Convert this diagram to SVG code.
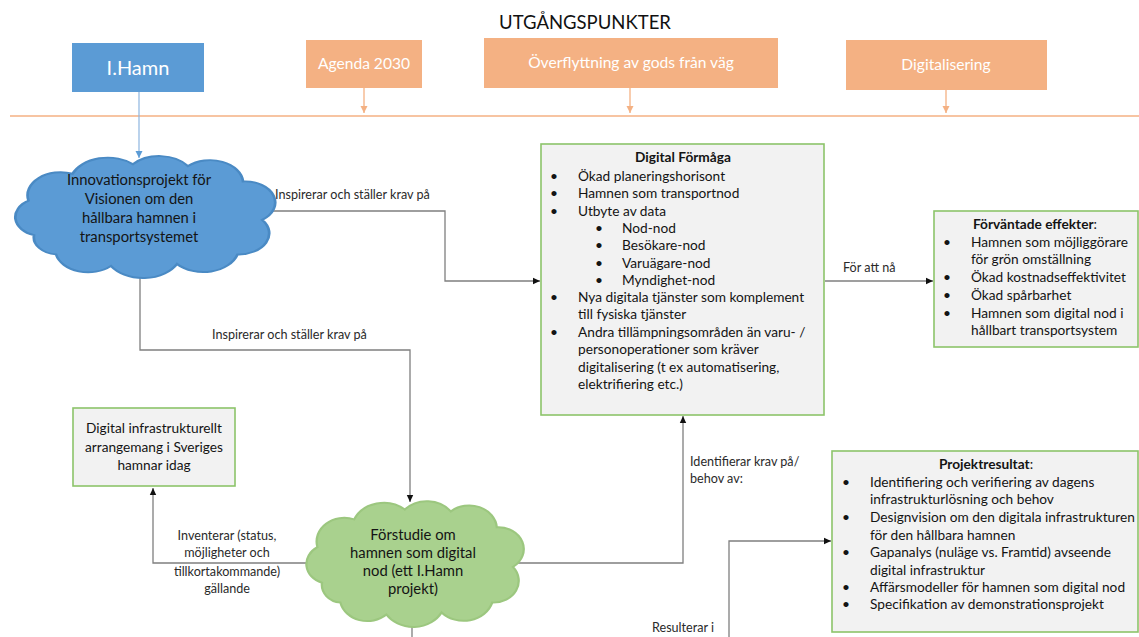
<svg xmlns="http://www.w3.org/2000/svg" xmlns:xlink="http://www.w3.org/1999/xlink" width="1139" height="637" viewBox="0 0 1139 637">
  <style>
    .txt { font-family: Lato, "Liberation Sans", sans-serif; font-size: 13.7px; fill: #141414; }
    .ctx { font-family: Lato, "Liberation Sans", sans-serif; font-size: 14.8px; fill: #141414; text-anchor: middle; }
    .lbl { font-family: Lato, "Liberation Sans", sans-serif; font-size: 12.6px; fill: #2a2a2a; }
    .mid { text-anchor: middle; }
    .b { font-weight: bold; }
    .wht { font-family: Lato, "Liberation Sans", sans-serif; fill: #ffffff; text-anchor: middle; }
    .box { fill: #f2f2f2; stroke: #8cc46a; stroke-width: 1.6; }
    .org { fill: #f4b183; }
    .conn { fill: none; stroke: #7f7f7f; stroke-width: 1.3; }
    .oline { fill: none; stroke: #f4b183; stroke-width: 1.3; }
  </style>
  <defs>
    <marker id="arr" markerUnits="userSpaceOnUse" markerWidth="8" markerHeight="8" refX="7" refY="4" orient="auto">
      <path d="M0,0.8 L7,4 L0,7.2 Z" fill="#111111"/>
    </marker>
    <marker id="arrO" markerUnits="userSpaceOnUse" markerWidth="8" markerHeight="8" refX="7" refY="4" orient="auto">
      <path d="M0,0.5 L7,4 L0,7.5 Z" fill="#f4b183"/>
    </marker>
    <marker id="arrB" markerUnits="userSpaceOnUse" markerWidth="8" markerHeight="8" refX="7" refY="4" orient="auto">
      <path d="M0,0.5 L7,4 L0,7.5 Z" fill="#5b9bd5"/>
    </marker>
    <!-- cloud outline centred on 0,0, about 94 x 64 units -->
    <path id="cloud" d="M -40,10 A 10,10 0 0 1 -42,-8 A 12,12 0 0 1 -26,-22 A 14,14 0 0 1 -4,-27 A 13,13 0 0 1 16,-26 A 12,12 0 0 1 36,-18 A 11,11 0 0 1 43,2 A 11,11 0 0 1 34,20 A 13,13 0 0 1 12,25 A 14,14 0 0 1 -12,26 A 12,12 0 0 1 -32,20 A 9,9 0 0 1 -40,10 Z"/>
  </defs>

  <rect width="1139" height="637" fill="#ffffff"/>

  <text x="585" y="29" class="mid" font-family="Lato, 'Liberation Sans', sans-serif" font-size="18.5" fill="#111111">UTGÅNGSPUNKTER</text>

  <!-- connectors -->
  <g id="connectors">
    <path class="oline" d="M10,116 H1139"/>
    <path class="oline" d="M364,88 V113" marker-end="url(#arrO)"/>
    <path class="oline" d="M630,88 V113" marker-end="url(#arrO)"/>
    <path class="oline" d="M946,90 V113" marker-end="url(#arrO)"/>
    <path d="M139,91 V158" fill="none" stroke="#8db5e0" stroke-width="1.2" marker-end="url(#arrB)"/>
    <path class="conn" d="M268,211 H445 V281 H540" marker-end="url(#arr)"/>
    <path class="conn" d="M140,272 V350 H410 V502" marker-end="url(#arr)"/>
    <path class="conn" d="M825,281 H933" marker-end="url(#arr)"/>
    <path class="conn" d="M312,563 H153 V488" marker-end="url(#arr)"/>
    <path class="conn" d="M518,563 H683 V416" marker-end="url(#arr)"/>
    <path class="conn" d="M412,622 V637"/>
    <path class="conn" d="M729,637 V541 H831" marker-end="url(#arr)"/>
    <text class="lbl" x="275" y="199">Inspirerar och ställer krav på</text>
    <text class="lbl" x="212" y="339">Inspirerar och ställer krav på</text>
    <text class="lbl" x="843" y="272">För att nå</text>
    <text class="lbl mid" x="227" y="540">Inventerar (status,</text>
    <text class="lbl mid" x="227" y="557">möjligheter och</text>
    <text class="lbl mid" x="227" y="576">tillkortakommande)</text>
    <text class="lbl mid" x="227" y="593">gällande</text>
    <text class="lbl" x="690" y="466">Identifierar krav på/</text>
    <text class="lbl" x="690" y="483">behov av:</text>
    <text class="lbl" x="652" y="632">Resulterar i</text>
  </g>

  <g id="ihamn">
    <rect x="72" y="43" width="132" height="49" fill="#5b9bd5"/>
    <text class="wht" x="138" y="75" font-size="20">I.Hamn</text>
  </g>
  <g id="agenda">
    <rect class="org" x="306" y="40" width="116" height="48"/>
    <text class="wht" x="364" y="69" font-size="15.6">Agenda 2030</text>
  </g>
  <g id="overflyttning">
    <rect class="org" x="484" y="38" width="294" height="50"/>
    <text class="wht" x="631" y="68" font-size="15.6">Överflyttning av gods från väg</text>
  </g>
  <g id="digitalisering">
    <rect class="org" x="846" y="40" width="201" height="50"/>
    <text class="wht" x="946" y="70" font-size="15.6">Digitalisering</text>
  </g>

  <g id="innovationsprojekt">
    <use xlink:href="#cloud" transform="translate(144,216) scale(2.75,1.92)" fill="#5b9bd5" stroke="#4a8ac4" stroke-width="1" vector-effect="non-scaling-stroke"/>
    <text class="ctx" x="139" y="185">Innovationsprojekt för</text>
    <text class="ctx" x="139" y="204">Visionen om den</text>
    <text class="ctx" x="139" y="223">hållbara hamnen i</text>
    <text class="ctx" x="139" y="242">transportsystemet</text>
  </g>

  <g id="digital-formaga">
    <rect class="box" x="541" y="144" width="283" height="271"/>
    <text class="txt mid b" x="683" y="162">Digital Förmåga</text>
    <g class="txt">
      <text x="550" y="181">•</text><text x="578" y="181">Ökad planeringshorisont</text>
      <text x="550" y="198">•</text><text x="578" y="198">Hamnen som transportnod</text>
      <text x="550" y="216">•</text><text x="578" y="216">Utbyte av data</text>
      <text x="595" y="233">•</text><text x="622" y="233">Nod-nod</text>
      <text x="595" y="250">•</text><text x="622" y="250">Besökare-nod</text>
      <text x="595" y="268">•</text><text x="622" y="268">Varuägare-nod</text>
      <text x="595" y="285">•</text><text x="622" y="285">Myndighet-nod</text>
      <text x="550" y="302">•</text><text x="578" y="302">Nya digitala tjänster som komplement</text>
      <text x="578" y="319">till fysiska tjänster</text>
      <text x="550" y="337">•</text><text x="578" y="337">Andra tillämpningsområden än varu- /</text>
      <text x="578" y="354">personoperationer som kräver</text>
      <text x="578" y="372">digitalisering (t ex automatisering,</text>
      <text x="578" y="389">elektrifiering etc.)</text>
    </g>
  </g>

  <g id="forvantade-effekter">
    <rect class="box" x="934" y="211" width="204" height="136"/>
    <text class="txt mid" x="1035" y="229"><tspan class="b">Förväntade effekter</tspan>:</text>
    <g class="txt">
      <text x="943" y="247">•</text><text x="971" y="247">Hamnen som möjliggörare</text>
      <text x="971" y="264">för grön omställning</text>
      <text x="943" y="282">•</text><text x="971" y="282">Ökad kostnadseffektivitet</text>
      <text x="943" y="300">•</text><text x="971" y="300">Ökad spårbarhet</text>
      <text x="943" y="318">•</text><text x="971" y="318">Hamnen som digital nod i</text>
      <text x="971" y="335">hållbart transportsystem</text>
    </g>
  </g>

  <g id="infrastruktur-idag">
    <rect class="box" x="73" y="408" width="162" height="78"/>
    <text class="txt mid" x="154" y="433">Digital infrastrukturellt</text>
    <text class="txt mid" x="154" y="452">arrangemang i Sveriges</text>
    <text class="txt mid" x="154" y="470">hamnar idag</text>
  </g>

  <g id="forstudie">
    <use xlink:href="#cloud" transform="translate(414,563) scale(2.3,1.98)" fill="#a9d18e" stroke="#9cc77f" stroke-width="1" vector-effect="non-scaling-stroke"/>
    <text class="ctx" x="413" y="540">Förstudie om</text>
    <text class="ctx" x="413" y="558">hamnen som digital</text>
    <text class="ctx" x="413" y="576">nod (ett I.Hamn</text>
    <text class="ctx" x="413" y="594">projekt)</text>
  </g>

  <g id="projektresultat">
    <rect class="box" x="832" y="451" width="306" height="181"/>
    <text class="txt mid" x="986" y="469"><tspan class="b">Projektresultat</tspan>:</text>
    <g class="txt">
      <text x="842" y="487">•</text><text x="870" y="487">Identifiering och verifiering av dagens</text>
      <text x="870" y="504">infrastrukturlösning och behov</text>
      <text x="842" y="522">•</text><text x="870" y="522">Designvision om den digitala infrastrukturen</text>
      <text x="870" y="540">för den hållbara hamnen</text>
      <text x="842" y="557">•</text><text x="870" y="557">Gapanalys (nuläge vs. Framtid) avseende</text>
      <text x="870" y="575">digital infrastruktur</text>
      <text x="842" y="592">•</text><text x="870" y="592">Affärsmodeller för hamnen som digital nod</text>
      <text x="842" y="609">•</text><text x="870" y="609">Specifikation av demonstrationsprojekt</text>
    </g>
  </g>
</svg>
